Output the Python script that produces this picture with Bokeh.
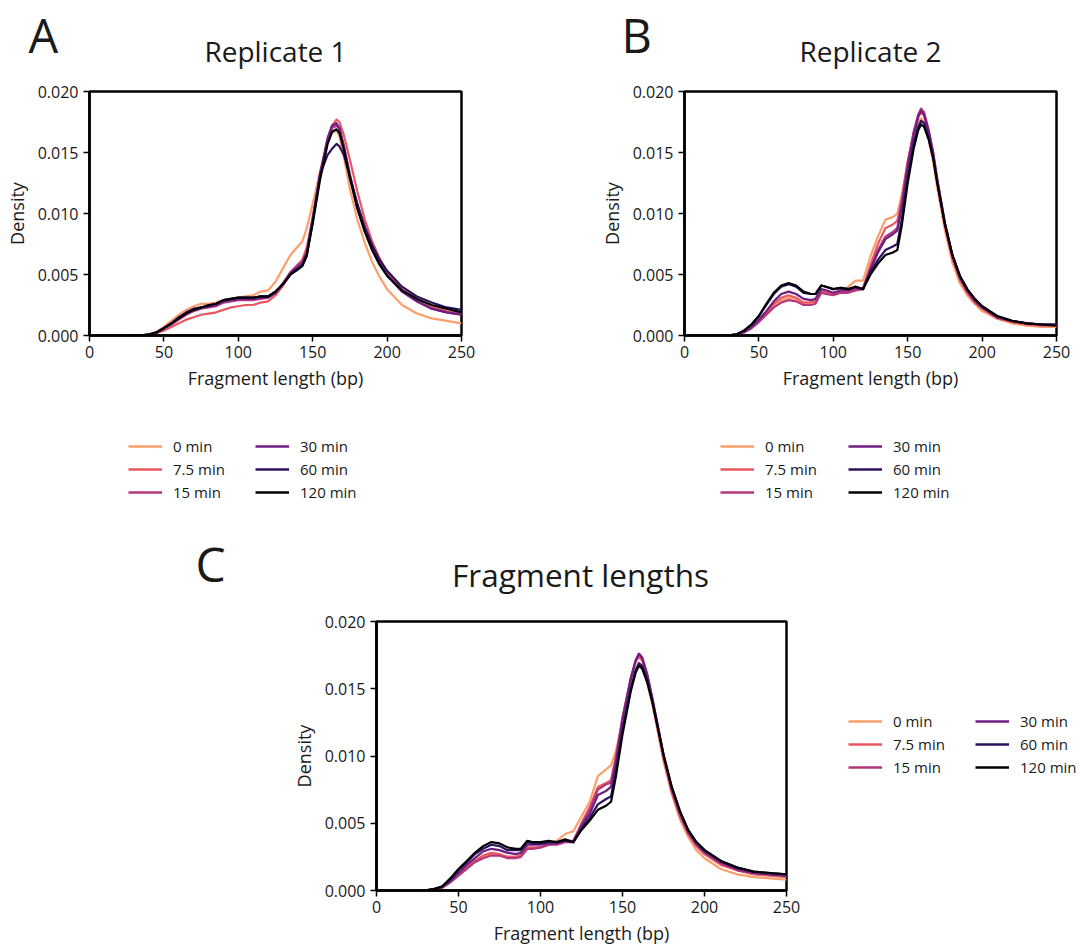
from bokeh.plotting import figure
from bokeh.models import Range1d, FixedTicker, PrintfTickFormatter, Legend, LegendItem
from bokeh.core.properties import value
from bokeh.layouts import column, row
from bokeh.embed import file_html
from bokeh.resources import INLINE

# ---------------- data ----------------
series_labels = ["0 min", "7.5 min", "15 min", "30 min", "60 min", "120 min"]
series_colors = ["#fc9f6d", "#eb5760", "#b5367a", "#6e1f81", "#2d1160", "#000004"]
x_ticks = [0, 50, 100, 150, 200, 250]
y_ticks = [0.0, 0.005, 0.010, 0.015, 0.020]

# Replicate 1
rep1_x = [25, 30, 35, 40, 45, 50, 55, 60, 65, 70, 75, 80, 85, 90, 95, 100, 105, 110, 115, 120,
          125, 130, 135, 140, 143, 146, 150, 155, 160, 163, 166, 168, 171, 175, 180, 185, 190,
          195, 200, 210, 220, 230, 240, 250]
rep1_0min = [0, 0, 0.00002, 0.0001, 0.0003, 0.0007, 0.0012, 0.0017, 0.0021, 0.0024, 0.0026, 0.0026,
             0.0027, 0.0029, 0.003, 0.0031, 0.0032, 0.0033, 0.0036, 0.0037, 0.0044, 0.0055, 0.0066,
             0.0073, 0.0077, 0.0088, 0.0108, 0.0135, 0.0158, 0.0166, 0.0168, 0.0163, 0.0146, 0.012,
             0.0095, 0.0076, 0.006, 0.0048, 0.0038, 0.0025, 0.0018, 0.0014, 0.0012, 0.001]
rep1_7_5min = [0, 0, 0.00001, 0.00006, 0.0002, 0.0004, 0.0007, 0.001, 0.0013, 0.0015, 0.0017, 0.0018,
               0.0019, 0.0021, 0.0023, 0.0024, 0.0025, 0.0025, 0.0027, 0.0028, 0.0033, 0.0041, 0.005,
               0.0058, 0.0062, 0.0072, 0.0097, 0.0131, 0.016, 0.0172, 0.0177, 0.0175, 0.0164, 0.0144,
               0.0118, 0.0095, 0.0077, 0.0063, 0.0052, 0.0038, 0.003, 0.0024, 0.002, 0.0018]
rep1_15min = [0, 0, 0.00002, 0.00007, 0.00022, 0.00055, 0.0009, 0.0013, 0.0017, 0.002, 0.0022, 0.0023,
              0.0024, 0.0027, 0.0028, 0.0029, 0.0029, 0.0029, 0.003, 0.0031, 0.0035, 0.0043, 0.0052,
              0.0058, 0.006, 0.0069, 0.0095, 0.0131, 0.016, 0.017, 0.0172, 0.0169, 0.0155, 0.0132,
              0.0107, 0.0088, 0.0072, 0.006, 0.005, 0.0036, 0.0028, 0.0022, 0.0019, 0.0017]
rep1_30min = [0, 0, 0.00002, 0.00008, 0.00024, 0.00058, 0.00095, 0.0014, 0.0018, 0.0021, 0.0023, 0.0024,
              0.0025, 0.0028, 0.0029, 0.003, 0.003, 0.003, 0.0031, 0.0031, 0.0035, 0.0042, 0.0051,
              0.0056, 0.0059, 0.0068, 0.0096, 0.0133, 0.0162, 0.0172, 0.0174, 0.017, 0.0155, 0.0131,
              0.0105, 0.0086, 0.007, 0.0058, 0.0049, 0.0036, 0.0028, 0.0022, 0.0019, 0.0017]
rep1_60min = [0, 0, 0.00002, 0.00009, 0.00026, 0.00062, 0.001, 0.0015, 0.0019, 0.0022, 0.0023, 0.0024,
              0.0026, 0.0029, 0.003, 0.0031, 0.0031, 0.0031, 0.0032, 0.0032, 0.0036, 0.0042, 0.005,
              0.0055, 0.0057, 0.0065, 0.0093, 0.0132, 0.0148, 0.0153, 0.0157, 0.0155, 0.0148, 0.013,
              0.0108, 0.0089, 0.0074, 0.0062, 0.0053, 0.004, 0.0032, 0.0027, 0.0023, 0.0021]
rep1_120min = [0, 0, 0.00002, 0.00008, 0.00025, 0.0006, 0.001, 0.0014, 0.0018, 0.0021, 0.0023, 0.0025,
               0.0026, 0.0029, 0.003, 0.0031, 0.0031, 0.0031, 0.0032, 0.0032, 0.0036, 0.0042, 0.005,
               0.0054, 0.0057, 0.0066, 0.0092, 0.0128, 0.0157, 0.0167, 0.0169, 0.0166, 0.0152, 0.0129,
               0.0104, 0.0085, 0.007, 0.0058, 0.0049, 0.0037, 0.003, 0.0025, 0.0022, 0.0019]

# Replicate 2
rep2_x = [25, 30, 35, 40, 45, 50, 55, 60, 65, 70, 75, 80, 85, 88, 92, 95, 100, 105, 110, 115, 120,
          125, 130, 135, 140, 143, 146, 150, 154, 157, 159, 161, 164, 167, 170, 175, 180, 185, 190,
          195, 200, 210, 220, 230, 240, 250]
rep2_0min = [0, 0.00001, 0.00007, 0.00027, 0.00063, 0.0012, 0.0018, 0.0025, 0.0029, 0.0031, 0.003, 0.0027,
             0.0027, 0.0028, 0.0036, 0.0035, 0.0034, 0.0036, 0.004, 0.0045, 0.0045, 0.0065, 0.0081,
             0.0095, 0.0097, 0.01, 0.0115, 0.0142, 0.0163, 0.0175, 0.0178, 0.0174, 0.0161, 0.0143,
             0.012, 0.0086, 0.006, 0.0043, 0.0033, 0.0026, 0.002, 0.0014, 0.001, 0.0008, 0.0007, 0.0007]
rep2_7_5min = [0, 0.00001, 0.00007, 0.00028, 0.00065, 0.0012, 0.0019, 0.0026, 0.0031, 0.0033, 0.0031,
               0.0027, 0.0027, 0.0028, 0.0036, 0.0035, 0.0034, 0.0036, 0.0036, 0.0038, 0.0039, 0.0058,
               0.0075, 0.0088, 0.0091, 0.0094, 0.0112, 0.0143, 0.0166, 0.0179, 0.0183, 0.018, 0.0166,
               0.0148, 0.0125, 0.009, 0.0063, 0.0046, 0.0035, 0.0027, 0.0022, 0.0014, 0.0011, 0.0009,
               0.0008, 0.0008]
rep2_15min = [0, 0.00001, 0.00006, 0.00025, 0.0006, 0.0011, 0.0017, 0.0023, 0.0027, 0.0029, 0.0028,
              0.0025, 0.0025, 0.0026, 0.0035, 0.0034, 0.0033, 0.0035, 0.0035, 0.0037, 0.0038, 0.0055,
              0.007, 0.0081, 0.0085, 0.0088, 0.0108, 0.0141, 0.0167, 0.0181, 0.0186, 0.0183, 0.0169,
              0.0151, 0.0127, 0.0092, 0.0065, 0.0047, 0.0036, 0.0028, 0.0023, 0.0015, 0.0012, 0.001,
              0.0009, 0.0009]
rep2_30min = [0, 0.00001, 0.00008, 0.0003, 0.0007, 0.0013, 0.002, 0.0028, 0.0034, 0.0036, 0.0034, 0.003,
              0.0029, 0.003, 0.0038, 0.0037, 0.0035, 0.0037, 0.0037, 0.0039, 0.0038, 0.0054, 0.0068,
              0.0079, 0.0083, 0.0086, 0.0105, 0.0138, 0.0164, 0.0179, 0.0184, 0.0181, 0.0168, 0.015,
              0.0127, 0.0092, 0.0066, 0.0048, 0.0037, 0.0029, 0.0023, 0.0015, 0.0012, 0.001, 0.0009,
              0.0009]
rep2_60min = [0, 0.00002, 0.0001, 0.0004, 0.0009, 0.0016, 0.0025, 0.0034, 0.004, 0.0042, 0.004, 0.0035,
              0.0034, 0.0034, 0.0041, 0.004, 0.0038, 0.0039, 0.0038, 0.004, 0.0038, 0.0052, 0.0062,
              0.007, 0.0073, 0.0075, 0.0095, 0.013, 0.0157, 0.0171, 0.0176, 0.0174, 0.0163, 0.0147,
              0.0125, 0.0092, 0.0066, 0.0049, 0.0038, 0.003, 0.0024, 0.0016, 0.0012, 0.001, 0.0009,
              0.0009]
rep2_120min = [0, 0.00002, 0.0001, 0.0004, 0.0009, 0.0016, 0.0026, 0.0035, 0.0041, 0.0043, 0.0041, 0.0036,
               0.0034, 0.0034, 0.0041, 0.004, 0.0038, 0.0039, 0.0038, 0.004, 0.0038, 0.005, 0.0059,
               0.0066, 0.0068, 0.007, 0.009, 0.0125, 0.0153, 0.0168, 0.0173, 0.0171, 0.0161, 0.0146,
               0.0124, 0.0091, 0.0066, 0.0049, 0.0038, 0.003, 0.0024, 0.0016, 0.0012, 0.001, 0.0009,
               0.0008]

# Fragment lengths (combined)
frag_x = [25, 30, 35, 40, 45, 50, 55, 60, 65, 70, 75, 80, 85, 88, 92, 95, 100, 105, 110, 115, 120,
          125, 130, 135, 140, 143, 146, 150, 155, 158, 160, 162, 165, 168, 171, 175, 180, 185, 190,
          195, 200, 210, 220, 230, 240, 250]
frag_0min = [0, 0.00001, 0.00007, 0.00022, 0.00065, 0.0012, 0.0017, 0.0022, 0.0025, 0.0027, 0.0026,
             0.0025, 0.0025, 0.0026, 0.0031, 0.0031, 0.0032, 0.0034, 0.0037, 0.0042, 0.0044, 0.0055,
             0.0066, 0.0085, 0.009, 0.0093, 0.0104, 0.0125, 0.015, 0.0163, 0.0169, 0.0166, 0.0155,
             0.0139, 0.0121, 0.0096, 0.0072, 0.0053, 0.004, 0.003, 0.0024, 0.0016, 0.0012, 0.001,
             0.0009, 0.0008]
frag_7_5min = [0, 0.00001, 0.00007, 0.00022, 0.00065, 0.0012, 0.0017, 0.0022, 0.0026, 0.0028, 0.0027,
               0.0025, 0.0025, 0.0026, 0.0032, 0.0032, 0.0032, 0.0034, 0.0035, 0.0037, 0.0037, 0.005,
               0.0062, 0.0077, 0.008, 0.0082, 0.01, 0.0129, 0.0157, 0.017, 0.0174, 0.0171, 0.0159,
               0.0142, 0.0123, 0.0098, 0.0073, 0.0055, 0.0042, 0.0033, 0.0027, 0.0019, 0.0015, 0.0012,
               0.0011, 0.001]
frag_15min = [0, 0.00001, 0.00006, 0.0002, 0.0006, 0.0011, 0.0016, 0.0021, 0.0024, 0.0026, 0.0026,
              0.0024, 0.0024, 0.0025, 0.0031, 0.0031, 0.0032, 0.0034, 0.0034, 0.0036, 0.0036, 0.0049,
              0.006, 0.0075, 0.0079, 0.008, 0.0098, 0.0128, 0.0158, 0.0171, 0.0176, 0.0173, 0.0161,
              0.0144, 0.0125, 0.01, 0.0075, 0.0057, 0.0043, 0.0034, 0.0028, 0.002, 0.0015, 0.0013,
              0.0012, 0.0011]
frag_30min = [0, 0.00001, 0.00008, 0.00026, 0.0007, 0.0013, 0.0019, 0.0024, 0.0029, 0.0031, 0.003,
              0.0028, 0.0027, 0.0028, 0.0034, 0.0034, 0.0034, 0.0035, 0.0035, 0.0037, 0.0036, 0.0048,
              0.0057, 0.0071, 0.0074, 0.0077, 0.0095, 0.0126, 0.0157, 0.0171, 0.0176, 0.0173, 0.0161,
              0.0144, 0.0126, 0.0101, 0.0076, 0.0058, 0.0044, 0.0035, 0.0029, 0.0021, 0.0016, 0.0013,
              0.0012, 0.0011]
frag_60min = [0, 0.00002, 0.0001, 0.0003, 0.0008, 0.0015, 0.0021, 0.0027, 0.0031, 0.0034, 0.0033, 0.003,
              0.003, 0.003, 0.0036, 0.0035, 0.0035, 0.0036, 0.0036, 0.0037, 0.0036, 0.0046, 0.0054,
              0.0064, 0.0068, 0.007, 0.0089, 0.0119, 0.015, 0.0164, 0.0169, 0.0167, 0.0157, 0.0142,
              0.0125, 0.0101, 0.0077, 0.0059, 0.0045, 0.0036, 0.003, 0.0022, 0.0017, 0.0014, 0.0013,
              0.0012]
frag_120min = [0, 0.00002, 0.0001, 0.0003, 0.0009, 0.0016, 0.0022, 0.0028, 0.0033, 0.0036, 0.0035,
               0.0032, 0.0031, 0.0031, 0.0037, 0.0036, 0.0036, 0.0037, 0.0036, 0.0038, 0.0036, 0.0045,
               0.0052, 0.006, 0.0063, 0.0066, 0.0085, 0.0116, 0.0148, 0.0162, 0.0167, 0.0165, 0.0155,
               0.0141, 0.0124, 0.0101, 0.0077, 0.0059, 0.0045, 0.0036, 0.003, 0.0022, 0.0017, 0.0014,
               0.0013, 0.0012]

FONT = "Open Sans"
TXT = "#1a1a1a"


def blank(width, height):
    """A figure with no axes whose frame covers it; y grows downward in pixels."""
    p = figure(width=width, height=height, x_range=Range1d(0, width), y_range=Range1d(height, 0),
               x_axis_type=None, y_axis_type=None, min_border=0,
               output_backend="svg", toolbar_location=None)
    p.grid.visible = False
    p.outline_line_color = None
    return p


def header(width, height, texts):
    p = blank(width, height)
    for (tx, ty, txt, size, align) in texts:
        p.text(x=[tx], y=[ty], text=[txt], text_font=value(FONT), text_font_size=size,
               text_align=align, text_baseline="alphabetic", text_color=TXT)
    return p


def add_legends(p, groups):
    # groups: list of (x from frame left, y of legend bottom above frame bottom, labels, colors)
    for (lx, ly, labs, cols) in groups:
        items = []
        for lab, col in zip(labs, cols):
            # off-screen sample line that only serves as the legend's swatch
            r = p.line(x=[-1000, -999], y=[-1000, -1000], line_color=col, line_width=2.5)
            items.append(LegendItem(label=lab, renderers=[r]))
        leg = Legend(items=items, location=(lx, ly), orientation="vertical",
                     glyph_width=34, glyph_height=20, label_height=20, spacing=3,
                     padding=0, margin=0, label_standoff=11,
                     border_line_color=None, background_fill_alpha=0,
                     label_text_font=FONT, label_text_font_size="15px",
                     label_text_color=TXT)
        p.add_layout(leg)


def make_panel(xs, ys_list, frame_w, frame_h, bl, br, bt, bb):
    p = figure(frame_width=frame_w, frame_height=frame_h,
               min_border_left=bl, min_border_right=br, min_border_top=bt, min_border_bottom=bb,
               x_range=Range1d(0, 250), y_range=Range1d(0, 0.02),
               output_backend="svg", toolbar_location=None)
    p.grid.visible = False
    p.outline_line_color = "black"
    p.outline_line_width = 2.5
    p.outline_line_alpha = 1.0

    p.xaxis.ticker = FixedTicker(ticks=x_ticks)
    p.yaxis.ticker = FixedTicker(ticks=y_ticks)
    p.yaxis.formatter = PrintfTickFormatter(format="%.3f")
    p.xaxis.axis_label = "Fragment length (bp)"
    p.yaxis.axis_label = "Density"
    for ax in p.axis:
        ax.axis_line_width = 2.5
        ax.axis_line_color = "black"
        ax.major_tick_line_width = 1.5
        ax.major_tick_line_color = "black"
        ax.major_tick_out = 6
        ax.major_tick_in = 0
        ax.minor_tick_line_color = None
        ax.major_label_text_font = FONT
        ax.major_label_text_font_size = "16px"
        ax.major_label_text_color = TXT
        ax.axis_label_text_font = FONT
        ax.axis_label_text_font_size = "18px"
        ax.axis_label_text_font_style = "normal"
        ax.axis_label_text_color = TXT
    p.xaxis.major_label_standoff = 4
    p.xaxis.axis_label_standoff = 5
    p.yaxis.major_label_standoff = 5
    p.yaxis.axis_label_standoff = 6

    for ys, col in zip(ys_list, series_colors):
        p.line(xs, ys, line_color=col, line_width=2.2, line_join="round")
    return p


# --- top row: headers ---
hdr_top = header(1080, 80, [
    (28, 34, "A", "47px", "left"),
    (275, 50, "Replicate 1", "28px", "center"),
    (621, 34, "B", "47px", "left"),
    (870, 50, "Replicate 2", "28px", "center"),
])

pA = make_panel(rep1_x, [rep1_0min, rep1_7_5min, rep1_15min, rep1_30min, rep1_60min, rep1_120min],
                372, 244, 89, 134, 11, 65)
pB = make_panel(rep2_x, [rep2_0min, rep2_7_5min, rep2_15min, rep2_30min, rep2_60min, rep2_120min],
                372, 244, 89, 24, 11, 65)

leg_top = blank(1080, 130)
add_legends(leg_top, [
    (128, 28, series_labels[:3], series_colors[:3]),
    (255, 28, series_labels[3:], series_colors[3:]),
    (720, 28, series_labels[:3], series_colors[:3]),
    (848, 28, series_labels[3:], series_colors[3:]),
])

# --- bottom row ---
hdr_bot = header(1080, 80, [
    (195, 33, "C", "48px", "left"),
    (580, 44, "Fragment lengths", "31.5px", "center"),
])

pC = make_panel(frag_x, [frag_0min, frag_7_5min, frag_15min, frag_30min, frag_60min, frag_120min],
                410, 269, 376, 34, 11, 58)

leg_bot = blank(260, 338)
add_legends(leg_bot, [
    (28, 113, series_labels[:3], series_colors[:3]),
    (155, 113, series_labels[3:], series_colors[3:]),
])

layout = column(hdr_top, row(pA, pB), leg_top, hdr_bot, row(pC, leg_bot))
open("out.html", "w").write(file_html(layout, INLINE))
